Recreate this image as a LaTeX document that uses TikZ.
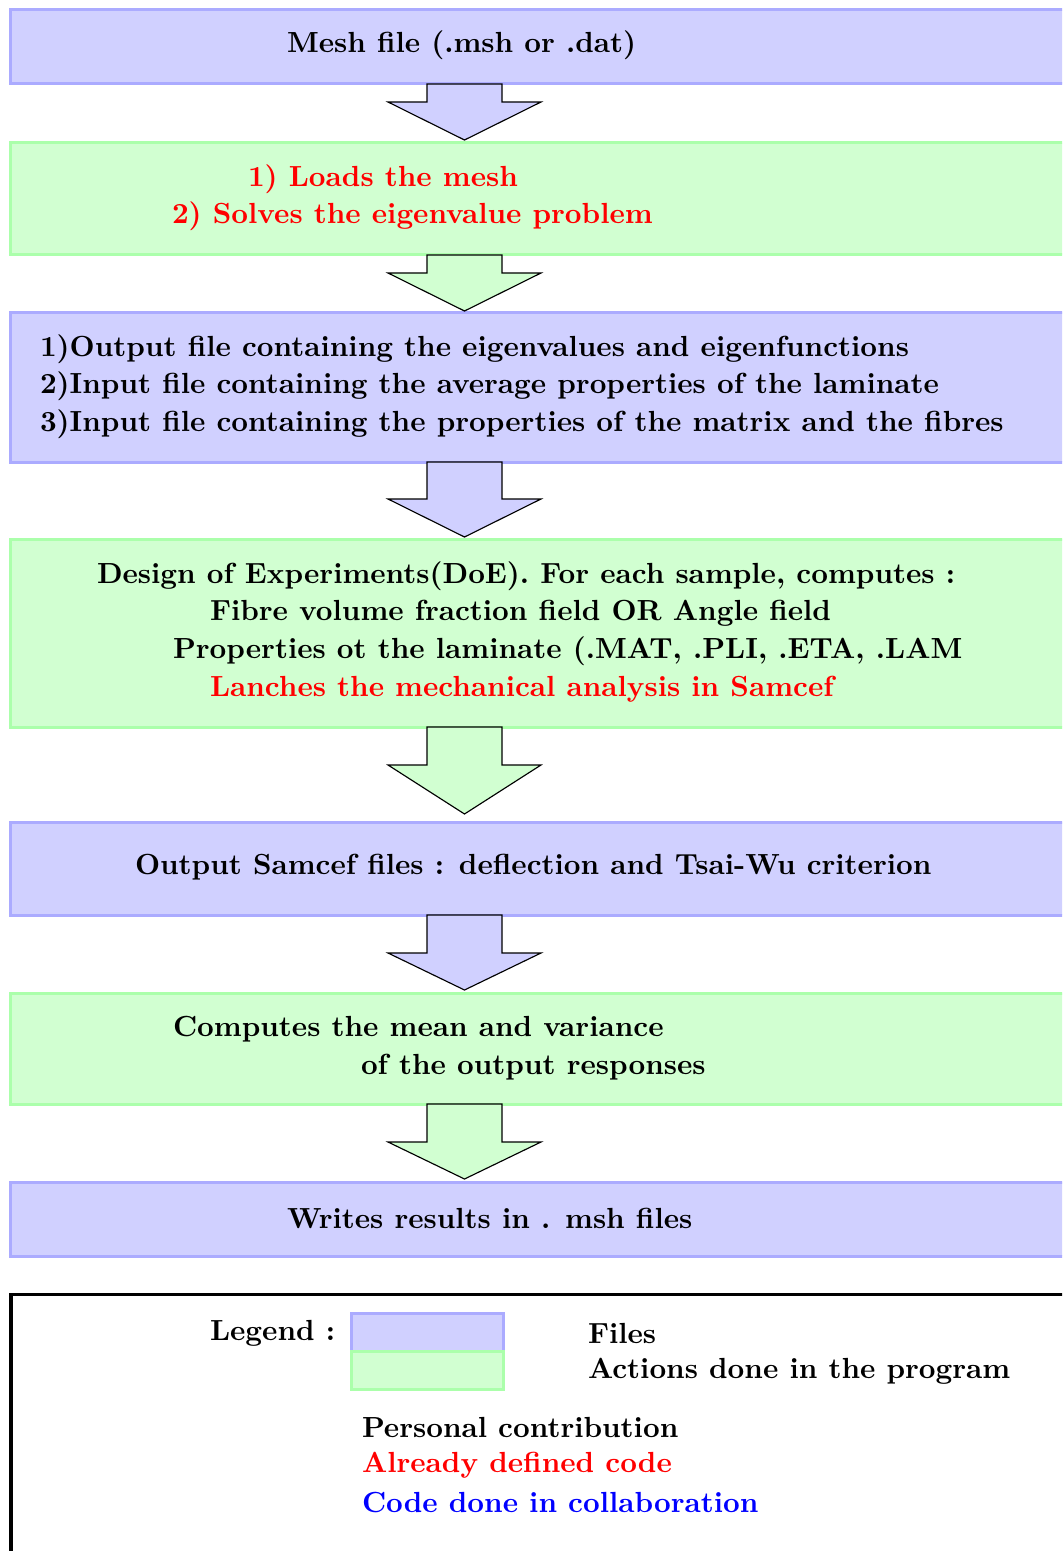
\documentclass[tikz,border=0pt]{standalone}
\usetikzlibrary{calc}
\begin{document}
\begin{tikzpicture}[x=0.35pt,y=-0.35pt,
  every node/.style={inner sep=0pt, outer sep=0pt},
  txt/.style={anchor=base west, font=\fontsize{10.18}{12.2}\selectfont\bfseries},
  filebox/.style={draw=blue!33, fill=blue!18.5, line width=1.05pt, anchor=north west, minimum width=390pt},
  actbox/.style={draw=green!33, fill=green!18, line width=1.05pt, anchor=north west, minimum width=390pt},
  flow/.style={draw=black, line width=0.4pt, line join=miter},
  legframe/.style={draw=black, line width=1.1pt, anchor=north west, minimum width=400pt, minimum height=100pt},
]
\useasboundingbox (0,0) rectangle (1062,1551);
\clip (0,0) rectangle (1062,1551);

% wide arrow from the bottom of a box: #1 box, #2 shaft length, #3 head length, #4 fill
\newcommand\flowarrow[4]{%
  \draw[flow, fill=#4] ($(ax |- #1.south)+(-37.5,0)$) -- ++(0,#2) -- ++(-39,0)
    -- ++(76.5,#3) -- ++(76.5,-#3) -- ++(-39,0) -- ++(0,-#2) -- cycle;}

\coordinate (ax) at (464.5,0);

% process boxes
\node[filebox, minimum height=25.9pt]  (b1) at (10,10)   {};
\node[actbox,  minimum height=39.2pt]  (b2) at (10,143)  {};
\node[filebox, minimum height=52.5pt]  (b3) at (10,312)  {};
\node[actbox,  minimum height=65.8pt]  (b4) at (10,539)  {};
\node[filebox, minimum height=32.55pt] (b5) at (10,822)  {};
\node[actbox,  minimum height=38.85pt] (b6) at (10,993)  {};
\node[filebox, minimum height=25.9pt]  (b7) at (10,1182) {};

% arrows between the boxes
\flowarrow{b1}{18}{38}{blue!18.5}
\flowarrow{b2}{18}{38}{green!18}
\flowarrow{b3}{37}{38}{blue!18.5}
\flowarrow{b4}{38}{49}{green!18}
\flowarrow{b5}{38}{37}{blue!18.5}
\flowarrow{b6}{38}{37}{green!18}

% box texts
\node[txt] (t1) at (287,53) {Mesh file (.msh or .dat)};

\node[txt, text=red] (t2a) at (248,186) {1) Loads the mesh};
\node[txt, text=red] (t2b) at (172,223) {2) Solves the eigenvalue problem};

\node[txt] (t3a) at (40,356) {1)Output file containing the eigenvalues and eigenfunctions};
\node[txt] (t3b) at (40,393) {2)Input file containing the average properties of the laminate};
\node[txt] (t3c) at (40,431) {3)Input file containing the properties of the matrix and the fibres};

\node[txt] (t4a) at (97,583) {Design of Experiments(DoE). For each sample, computes :};
\node[txt] (t4b) at (210,620) {Fibre volume fraction field OR Angle field};
\node[txt] (t4c) at (173,658) {Properties ot the laminate (.MAT, .PLI, .ETA, .LAM};
\node[txt, text=red] (t4d) at (210,696) {Lanches the mechanical analysis in Samcef};

\node[txt] (t5) at (135,874) {Output Samcef files : deflection and Tsai-Wu criterion};

\node[txt] (t6a) at (173,1036) {Computes the mean and variance};
\node[txt] (t6b) at (361,1074) {of the output responses};

\node[txt] (t7) at (287,1228) {Writes results in . msh files};

% legend
\node[legframe] (leg) at (11,1294.5) {};
\node[txt] (lg) at (210,1340) {Legend :};
\node[filebox, minimum width=53.2pt, minimum height=13.3pt] (sw1) at (351,1313) {};
\node[actbox,  minimum width=53.2pt, minimum height=13.3pt] (sw2) at (351,1351) {};
\node[txt] (l1) at (588,1343) {Files};
\node[txt] (l2) at (588,1378) {Actions done in the program};
\node[txt] (l3) at (362,1437) {Personal contribution};
\node[txt, text=red] (l4) at (362,1472) {Already defined code};
\node[txt, text=blue] (l5) at (362,1512) {Code done in collaboration};
\end{tikzpicture}
\end{document}
